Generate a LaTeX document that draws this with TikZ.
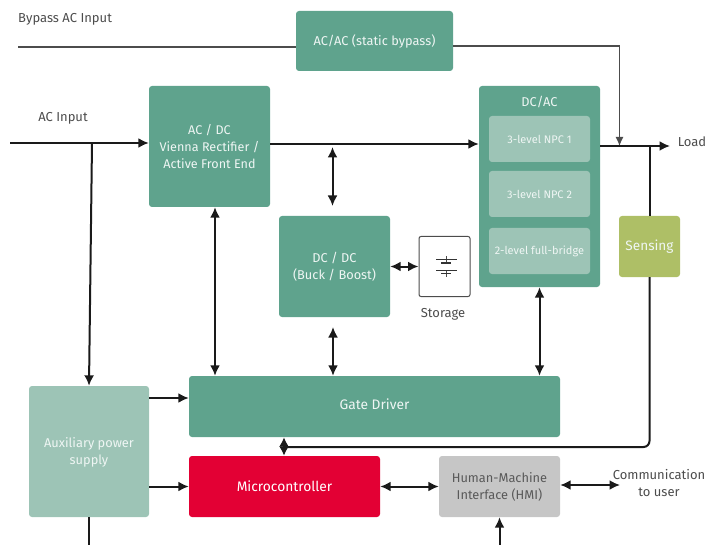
\documentclass[tikz,border=0pt]{standalone}
\usepackage{fontspec}
\setmainfont{Fira Sans}
\usetikzlibrary{arrows.meta}
\definecolor{teal}{HTML}{5FA38D}
\definecolor{paleteal}{HTML}{9DC4B6}
\definecolor{lime}{HTML}{AEBF66}
\definecolor{mcured}{HTML}{E30034}
\definecolor{hmigray}{HTML}{C6C6C6}
\definecolor{wire}{HTML}{1A1A1A}
\tikzset{
	box/.style={rounded corners=3pt, align=center, text=white!90!teal, font=\fontsize{12.8}{17}\selectfont, inner sep=0pt},
	tealbox/.style={box, fill=teal},
	palebox/.style={box, fill=paleteal},
	inner/.style={palebox, minimum width=101pt, minimum height=46pt, font=\fontsize{11}{13}\selectfont},
	label/.style={align=center, text=black!70, font=\fontsize{13}{16.5}\selectfont, inner sep=0pt},
	power/.style={draw=wire, line width=2pt, -{Latex[length=10.5pt,width=10pt]}},
	link/.style={draw=wire, line width=2pt, {Latex[length=10.5pt,width=10pt]}-{Latex[length=10.5pt,width=10pt]}},
	bypass/.style={draw=black!70, line width=1.1pt}
}
\begin{document}
\begin{tikzpicture}[x=1pt, y=-1pt]
\useasboundingbox (0,0) rectangle (706,545);
\node[tealbox, minimum width=157pt, minimum height=60pt] (static) at (374.5,41) {\raisebox{-1pt}{AC/AC (static bypass)}};
\node[tealbox, minimum width=121pt, minimum height=121pt, font=\fontsize{12.6}{17}\selectfont] (acdc) at (209.5,146.5) {AC / DC\\Vienna Rectifier /\\Active Front End};
\node[tealbox, minimum width=121pt, minimum height=201pt] (dcac) at (539.5,186.5) {};
\node[box] (dcactitle) at (539.5,102) {DC/AC};
\node[inner] (npca) at (539.5,139) {3-level NPC 1};
\node[inner] (npcb) at (539.5,194) {3-level NPC 2};
\node[inner] (bridge) at (539.5,251) {2-level full-bridge};
\node[box, fill=lime, minimum width=61pt, minimum height=61pt, font=\fontsize{13.6}{17}\selectfont] (sensing) at (649.5,246.5) {\raisebox{-1.5pt}{Sensing}};
\node[tealbox, minimum width=111pt, minimum height=101pt] (dcdc) at (334.5,266.5) {DC / DC\\(Buck / Boost)};
\node[draw=black!70, fill=white, rounded corners=2pt, line width=1pt, minimum width=51pt, minimum height=60pt, inner sep=0pt] (storage) at (444.5,266.5) {};
\node[label] (storagelabel) at (443,314) {Storage};
\node[palebox, minimum width=120pt, minimum height=131pt] (aux) at (89,451.5) {};
\node[box] (auxtitle) at (89,452.5) {Auxiliary power\\supply};
\node[tealbox, minimum width=371pt, minimum height=61pt, font=\fontsize{13.8}{17}\selectfont] (gate) at (374.5,406.5) {\raisebox{5pt}{Gate Driver}};
\node[box, fill=mcured, text=white, minimum width=191pt, minimum height=61pt, font=\fontsize{13.8}{17}\selectfont] (mcu) at (284.5,486.5) {Microcontroller};
\node[box, fill=hmigray, text=black!65, minimum width=121pt, minimum height=61pt] (hmi) at (499.5,486.5) {Human-Machine\\Interface (HMI)};
\node[label, anchor=west] (bypassin) at (18,19.5) {Bypass AC Input};
\node[label] (acin) at (63,118) {AC Input};
\node[label] (load) at (692,142) {Load};
\node[label] (comm) at (659,483) {Communication\\to user};
\coordinate (bypassstart) at (18,47);
\coordinate (acstart) at (10,143);
\coordinate (auxtap) at (92,143);
\coordinate (bypassdrop) at (619.5,46);
\coordinate (bypassend) at (619.5,146);
\coordinate (dcacout) at (600,146);
\coordinate (loadend) at (670,146);
\coordinate (sensetap) at (649.5,146);
\coordinate (senseturn) at (649.5,447);
\coordinate (gatemcu) at (284,447);
\coordinate (auxdown) at (89,545);
\coordinate (hmiup) at (499.5,545);
\coordinate (commend) at (620,485);
\coordinate (dclink) at (332.5,147);
\draw[bypass] (bypassstart) -- (bypassstart -| static.west);
\draw[bypass, -{Latex[length=9pt,width=8pt]}] (bypassdrop -| static.east) -- (bypassdrop) -- (bypassend);
\draw[power] (acstart) -- (acstart -| acdc.west);
\draw[power] (auxtap) -- (aux.north);
\draw[power] (acdc.east |- 0,144) -- (dcac.west |- 0,144);
\draw[power] (dcacout) -- (loadend);
\draw[draw=wire, line width=2pt] (sensetap) -- (sensing.north);
\draw[draw=wire, line width=2pt, rounded corners=6pt] (sensing.south) -- (senseturn) -- (gatemcu);
\draw[link] (dclink) -- (dclink |- 0,206);
\draw[link] (dcdc.east) -- (storage.west);
\draw[link] (333,327) -- (gate.north -| 333,0);
\draw[link] (acdc.south -| 215,0) -- (gate.north -| 215,0);
\draw[link] (dcac.south) -- (gate.north -| dcac.south);
\draw[draw=wire, line width=2pt, {Latex[length=9.5pt,width=10pt]}-{Latex[length=9.5pt,width=10pt]}] (gate.south -| gatemcu) -- (mcu.north -| gatemcu);
\draw[power] (aux.east |- 0,398) -- (gate.west |- 0,398);
\draw[power] (aux.east |- 0,486.5) -- (mcu.west |- 0,486.5);
\draw[draw=wire, line width=2pt] (aux.south) -- (auxdown);
\draw[link] (mcu.east) -- (hmi.west);
\draw[link] (hmi.east |- commend) -- (commend);
\draw[power] (hmiup) -- (hmi.south);
\draw[black!70, line width=1pt] (446,256) -- (446,263) (446,270) -- (446,277);
\draw[black!80, line width=1pt] (436,259) -- (457,259) (436,270) -- (457,270);
\draw[black!80, line width=1.6pt] (441,263) -- (451,263) (441,273.5) -- (451,273.5);
\end{tikzpicture}
\end{document}
